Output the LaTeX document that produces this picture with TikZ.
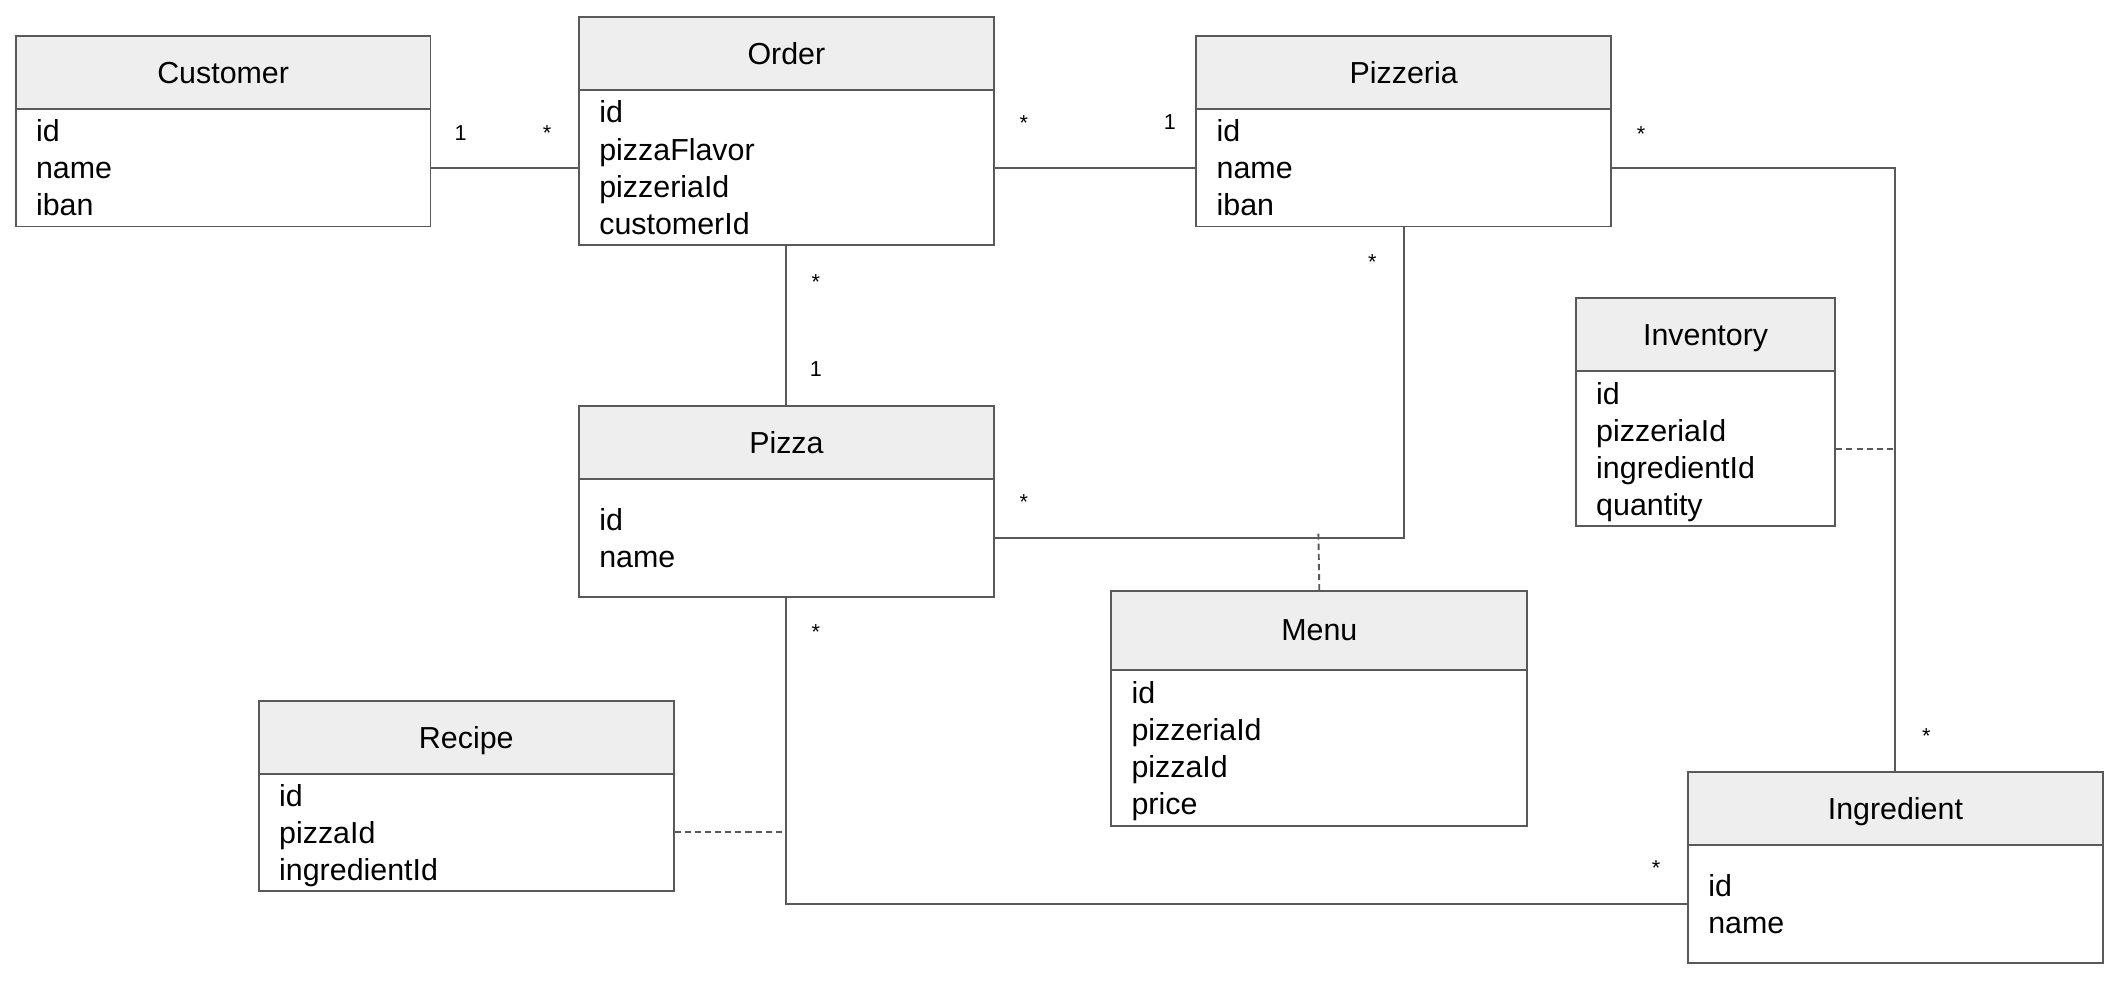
\documentclass[tikz,border=0pt]{standalone}
\usepackage{fontspec}
\setmainfont{Liberation Sans}
\definecolor{linec}{HTML}{595959}
\definecolor{headc}{HTML}{EEEEEE}
\tikzset{
  headbox/.style={draw=linec, line width=1.4pt, fill=headc, anchor=north west, inner sep=0pt,
    minimum width=#1, minimum height=54pt, text depth=0pt, font=\fontsize{22.5}{27.5}\selectfont, text=black},
  headbox/.default=307pt,
  bodybox/.style={draw=linec, line width=1.4pt, fill=white, anchor=north west, inner xsep=15pt, inner ysep=0pt,
    text width=#1, align=left, font=\fontsize{22.5}{27.5}\selectfont, text=black},
  bodybox/.default=277pt,
  conn/.style={draw=linec, line width=1.4pt},
  assoc/.style={draw=linec, line width=1.4pt, dash pattern=on 4.5pt off 3pt},
  mult/.style={font=\fontsize{16}{18}\selectfont, inner sep=0pt, text=black}
}
\begin{document}
\begin{tikzpicture}[x=1pt,y=-1pt]
\useasboundingbox (0,0) rectangle (1568,726);
% Customer
\node[headbox] (custH) at (11,26) {Customer};
\node[bodybox, minimum height=87pt] (cust) at (11,80) {id\\name\\iban};
% Order
\node[headbox] (orderH) at (428,12) {Order};
\node[bodybox, minimum height=115pt] (order) at (428,66) {id\\pizzaFlavor\\pizzeriaId\\customerId};
% Pizzeria
\node[headbox] (pzH) at (885,26) {Pizzeria};
\node[bodybox, minimum height=87pt] (pz) at (885,80) {id\\name\\iban};
% Inventory
\node[headbox=192pt] (invH) at (1166,220) {Inventory};
\node[bodybox=162pt, minimum height=115pt] (inv) at (1166,274) {id\\pizzeriaId\\ingredientId\\\smash{quantity}};
% Pizza
\node[headbox] (pizzaH) at (428,300) {Pizza};
\node[bodybox, minimum height=87pt] (pizza) at (428,354) {id\\name};
% Menu
\node[headbox=308pt, minimum height=58pt] (menuH) at (822,437) {Menu};
\node[bodybox=278pt, minimum height=116pt] (menu) at (822,495) {id\\pizzeriaId\\pizzaId\\\smash{price}};
% Recipe
\node[headbox] (recH) at (191,518) {Recipe};
\node[bodybox, minimum height=87pt] (rec) at (191,572) {id\\pizzaId\\\smash{ingredientId}};
% Ingredient
\node[headbox] (ingH) at (1249,571) {Ingredient};
\node[bodybox, minimum height=87pt] (ing) at (1249,625) {id\\name};
% connectors
\draw[conn] (cust.east) -- (order.west);
\draw[conn] (order.east) -- (pz.west);
\draw[conn] (order.south) -- (pizzaH.north);
\draw[conn] (pizza.east) -| (pz.south);
\draw[conn] (pz.east) -| (ingH.north);
\draw[conn] (pizza.south) |- (ing.west);
\coordinate (menuJ) at (976,393);
\draw[assoc] (menuH.north) -- (menuJ);
\draw[assoc] (inv.east) -- (inv.east -| ingH.north);
\draw[assoc] (rec.east) -- (rec.east -| pizza.south);
% multiplicities
\node[mult] (m1) at (341,98.5) {1};
\node[mult] (m2) at (405,98.5) {*};
\node[mult] (m3) at (758,91) {*};
\node[mult] (m4) at (866,90) {1};
\node[mult] (m5) at (604,209) {*};
\node[mult] (m6) at (604,273) {1};
\node[mult] (m7) at (758,372) {*};
\node[mult] (m8) at (1016,194) {*};
\node[mult] (m9) at (1215,99) {*};
\node[mult] (m10) at (1426,545) {*};
\node[mult] (m11) at (604,468) {*};
\node[mult] (m12) at (1226,643) {*};
\end{tikzpicture}
\end{document}
